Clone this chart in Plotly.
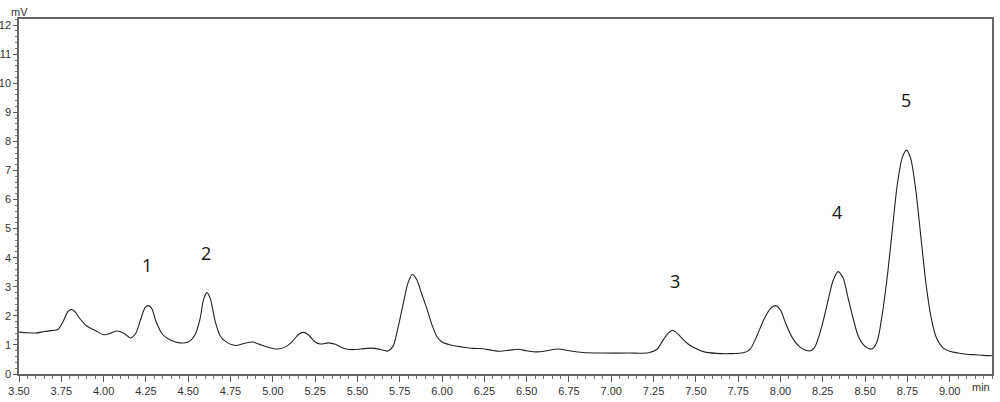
import plotly.graph_objects as go

# retention time (min) and detector signal (mV)
time_min = [3.50, 3.55, 3.60, 3.65, 3.70, 3.73, 3.76, 3.79, 3.81, 3.83, 3.86, 3.90, 3.95,
            4.00, 4.04, 4.08, 4.12, 4.16, 4.19, 4.22, 4.245, 4.265, 4.285, 4.31, 4.35, 4.40,
            4.45, 4.50, 4.54, 4.57, 4.59, 4.61, 4.63, 4.66, 4.69, 4.73, 4.78, 4.83, 4.88,
            4.93, 4.98, 5.03, 5.08, 5.12, 5.15, 5.18, 5.21, 5.25, 5.28, 5.33, 5.37, 5.42,
            5.47, 5.52, 5.58, 5.63, 5.68, 5.71, 5.74, 5.77, 5.80, 5.825, 5.85, 5.88, 5.91,
            5.94, 5.97, 6.00, 6.05, 6.12, 6.18, 6.24, 6.29, 6.34, 6.40, 6.45, 6.50, 6.56,
            6.62, 6.685, 6.75, 6.83, 6.95, 7.10, 7.22, 7.27, 7.31, 7.34, 7.36, 7.38, 7.41,
            7.45, 7.49, 7.55, 7.62, 7.70, 7.78, 7.82, 7.86, 7.90, 7.94, 7.97, 8.00, 8.03,
            8.07, 8.11, 8.15, 8.17, 8.20, 8.24, 8.28, 8.31, 8.34, 8.37, 8.40, 8.43, 8.46,
            8.50, 8.54, 8.57, 8.60, 8.63, 8.66, 8.69, 8.72, 8.745, 8.77, 8.80, 8.83, 8.86,
            8.89, 8.92, 8.96, 9.00, 9.05, 9.10, 9.15, 9.20, 9.25]
signal_mv = [1.44, 1.42, 1.41, 1.46, 1.50, 1.53, 1.80, 2.15, 2.22, 2.15, 1.90, 1.65, 1.50,
             1.35, 1.40, 1.48, 1.40, 1.24, 1.40, 1.90, 2.28, 2.35, 2.25, 1.80, 1.35, 1.15,
             1.07, 1.10, 1.35, 1.90, 2.55, 2.80, 2.60, 1.80, 1.30, 1.08, 0.98, 1.05, 1.10,
             1.00, 0.90, 0.86, 0.95, 1.15, 1.35, 1.43, 1.35, 1.10, 1.03, 1.07, 1.02, 0.88,
             0.84, 0.86, 0.89, 0.85, 0.79, 0.95, 1.60, 2.40, 3.15, 3.42, 3.25, 2.75, 2.25,
             1.70, 1.28, 1.10, 1.00, 0.93, 0.88, 0.87, 0.82, 0.78, 0.82, 0.85, 0.80, 0.76,
             0.80, 0.86, 0.80, 0.74, 0.72, 0.72, 0.73, 0.85, 1.20, 1.42, 1.50, 1.45, 1.28,
             1.05, 0.90, 0.76, 0.71, 0.70, 0.73, 0.85, 1.30, 1.85, 2.25, 2.35, 2.20, 1.75,
             1.25, 0.95, 0.82, 0.79, 0.90, 1.55, 2.50, 3.20, 3.52, 3.30, 2.60, 1.90, 1.30,
             0.95, 0.86, 1.10, 2.00, 3.30, 4.90, 6.50, 7.45, 7.70, 7.40, 6.30, 4.70, 3.10,
             1.95, 1.27, 0.90, 0.78, 0.72, 0.68, 0.66, 0.64, 0.63]

peak_labels = ["1", "2", "3", "4", "5"]
peak_label_t = [4.256, 4.605, 7.375, 8.332, 8.739]
peak_label_mv = [3.75, 4.16, 3.21, 5.58, 9.42]

x_tickvals = [3.50, 3.75, 4.00, 4.25, 4.50, 4.75, 5.00, 5.25, 5.50, 5.75, 6.00,
              6.25, 6.50, 6.75, 7.00, 7.25, 7.50, 7.75, 8.00, 8.25, 8.50, 8.75, 9.00]
y_tickvals = list(range(0, 13))

tick_font = dict(family="Liberation Sans Narrow, Liberation Sans, Arial", size=11, color="#333")

fig = go.Figure()
fig.add_trace(go.Scatter(
    x=time_min, y=signal_mv, mode="lines",
    line=dict(color="#222", width=1.1, shape="spline", smoothing=0.8),
    hoverinfo="skip", showlegend=False))

for lab, t, v in zip(peak_labels, peak_label_t, peak_label_mv):
    fig.add_annotation(x=t, y=v, text=lab, showarrow=False,
                       font=dict(family="Open Sans, Liberation Sans", size=18, color="#111"))

fig.add_annotation(xref="paper", yref="paper", x=0, y=1, xanchor="center", yanchor="bottom",
                   text="mV", showarrow=False, font=tick_font, yshift=-1, xshift=0)
fig.add_annotation(xref="paper", yref="paper", x=1, y=0, xanchor="right", yanchor="top",
                   text="min", showarrow=False, font=tick_font, yshift=-5, xshift=0)

fig.update_layout(
    width=1000, height=402,
    margin=dict(l=19, r=8, t=19, b=28, autoexpand=False),
    paper_bgcolor="white", plot_bgcolor="white",
    xaxis=dict(range=[3.5, 9.25], tickvals=x_tickvals, automargin=False,
               ticktext=[f"{v:.2f}" for v in x_tickvals],
               ticks="outside", ticklen=6, tickcolor="#555", tickwidth=1,
               minor=dict(dtick=0.05, tick0=3.5, ticks="outside", ticklen=3, tickcolor="#777"),
               showline=True, linecolor="#666", linewidth=1.5, mirror=True,
               showgrid=False, zeroline=False, tickfont=tick_font),
    yaxis=dict(range=[0, 12.21], tickvals=y_tickvals, automargin=False,
               ticks="outside", ticklen=4, tickcolor="#555", tickwidth=1,
               minor=dict(dtick=0.2, tick0=0, ticks="outside", ticklen=2, tickcolor="#777"),
               showline=True, linecolor="#666", linewidth=1.5, mirror=True,
               showgrid=False, zeroline=False, tickfont=tick_font),
)

# remove the page's default body margin so the 1000x402 figure fills the window
fig.write_html("out.html", config={"displayModeBar": False},
               post_script="document.body.style.margin='0';document.body.style.overflow='hidden';")
